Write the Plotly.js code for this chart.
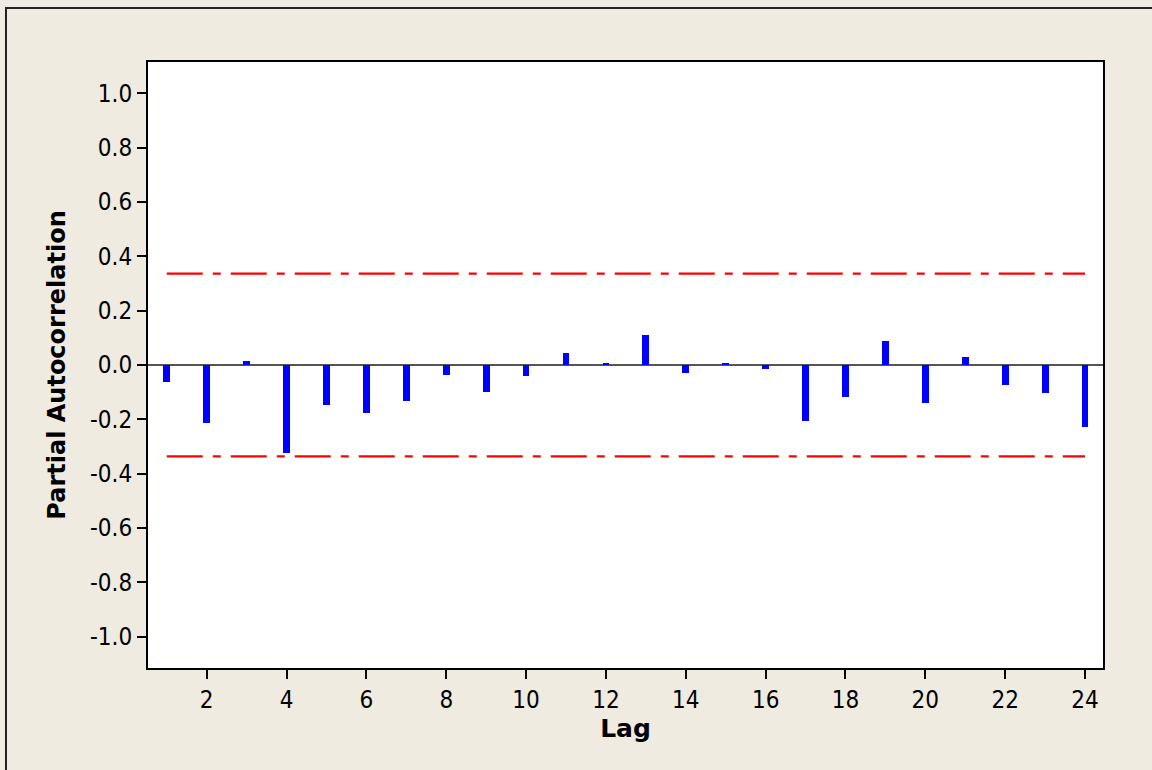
<!DOCTYPE html>
<html>
<head>
<meta charset="utf-8">
<script src="https://cdn.plot.ly/plotly-3.0.1.min.js"></script>
<style>
html,body{margin:0;padding:0;background:#EFEBE1;}
#chart{width:1152px;height:770px;}
</style>
</head>
<body>
<div id="chart"></div>
<script>
var lags = [1,2,3,4,5,6,7,8,9,10,11,12,13,14,15,16,17,18,19,20,21,22,23,24];
var pacf = [-0.064,-0.212,0.014,-0.322,-0.146,-0.175,-0.132,-0.035,-0.101,-0.042,0.043,0.008,
            0.110,-0.029,0.008,-0.014,-0.206,-0.116,0.088,-0.139,0.029,-0.073,-0.103,-0.228];
var limitUpper = 0.336;
var limitLower = -0.336;
var yTickVals = [-1.0,-0.8,-0.6,-0.4,-0.2,0.0,0.2,0.4,0.6,0.8,1.0];
var yTickLabels = ['-1.0','-0.8','-0.6','-0.4','-0.2','0.0','0.2','0.4','0.6','0.8','1.0'];
var xTickVals = [2,4,6,8,10,12,14,16,18,20,22,24];
var xTickLabels = ['2','4','6','8','10','12','14','16','18','20','22','24'];

var FONT = '"DejaVu Sans Condensed", "DejaVu Sans", sans-serif';
var TFONT = '"DejaVu Sans", sans-serif';
var firstLag = lags[0], lastLag = lags[lags.length-1];

var traces = [
  {
    type:'bar', x:lags, y:pacf, width:0.17,
    marker:{color:'#0000FF', line:{width:0}},
    hoverinfo:'x+y', showlegend:false
  },
  {
    type:'scatter', mode:'lines', x:[firstLag,lastLag], y:[limitUpper,limitUpper],
    line:{color:'#FF0000', width:2.2, dash:'36px,10px,8px,10px'}, showlegend:false
  },
  {
    type:'scatter', mode:'lines', x:[firstLag,lastLag], y:[limitLower,limitLower],
    line:{color:'#FF0000', width:2.2, dash:'36px,10px,8px,10px'}, showlegend:false
  }
];

var layout = {
  width:1152, height:770,
  paper_bgcolor:'#EFEBE1', plot_bgcolor:'#FFFFFF',
  margin:{l:148, r:49, t:62, b:102, pad:0},
  font:{family:FONT, size:24, color:'#000000'},
  showlegend:false,
  bargap:0,
  xaxis:{
    range:[0.53,24.45], tickmode:'array', tickvals:xTickVals, ticktext:xTickLabels,
    ticks:'outside', ticklen:9, tickwidth:2, tickcolor:'#000',
    showline:true, linecolor:'#000', linewidth:2, mirror:true,
    showgrid:false, zeroline:false,
    tickfont:{family:FONT, size:24, color:'#000'},
    title:{text:'<b>Lag</b>', font:{family:TFONT, size:25, color:'#000'}, standoff:5}
  },
  yaxis:{
    range:[-1.115,1.115], tickmode:'array', tickvals:yTickVals, ticktext:yTickLabels,
    ticks:'outside', ticklen:9, tickwidth:2, tickcolor:'#000',
    showline:true, linecolor:'#000', linewidth:2, mirror:true,
    showgrid:false, zeroline:true, zerolinecolor:'#555555', zerolinewidth:2,
    tickfont:{family:FONT, size:24, color:'#000'},
    title:{text:'<b>Partial Autocorrelation</b>', font:{family:TFONT, size:24, color:'#000'}, standoff:18}
  },
  shapes:[
    {type:'rect', xref:'paper', yref:'paper', x0:-0.1487, x1:1.2, y0:-0.3, y1:1.089,
     line:{color:'#222', width:2}, fillcolor:'rgba(0,0,0,0)', layer:'below'}
  ]
};

Plotly.newPlot('chart', traces, layout, {displayModeBar:false, staticPlot:true});
</script>
</body>
</html>
